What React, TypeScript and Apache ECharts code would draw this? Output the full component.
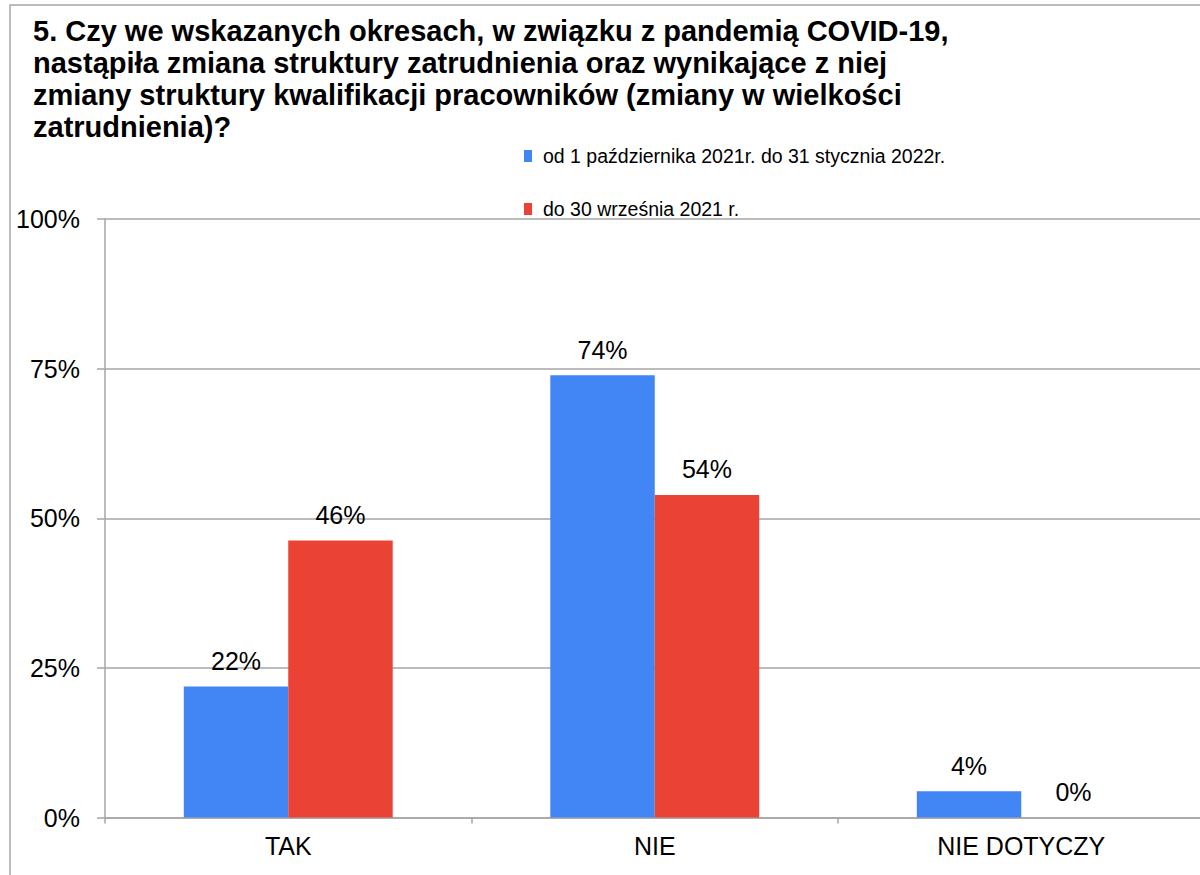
import React, { useEffect, useRef } from "react";
import * as echarts from "echarts";

const categories = ["TAK", "NIE", "NIE DOTYCZY"];
const seriesNames = [
  "od 1 października 2021r. do 31 stycznia 2022r.",
  "do 30 września 2021 r.",
];
const periodNew = [21.9, 73.9, 4.4];
const periodOld = [46.3, 53.9, 0];
const yTicks = [0, 25, 50, 75, 100];
const titleText =
  "5. Czy we wskazanych okresach, w związku z pandemią COVID-19,\nnastąpiła zmiana struktury zatrudnienia oraz wynikające z niej\nzmiany struktury kwalifikacji pracowników (zmiany w wielkości\nzatrudnienia)?";

const FONT = "'Liberation Sans', Arial, sans-serif";
const GRAY = "#a6a6a6";

export default function App() {
  const ref = useRef<HTMLDivElement>(null);
  useEffect(() => {
    if (!ref.current) return;
    const chart = echarts.init(ref.current, null, { renderer: "svg" });
    const label = {
      show: true,
      position: "top" as const,
      distance: 13,
      fontSize: 25,
      color: "#000",
      fontFamily: FONT,
      formatter: (p: any) => Math.round(p.value) + "%",
    };
    chart.setOption({
      animation: false,
      backgroundColor: "#fff",
      textStyle: { fontFamily: FONT },
      title: {
        text: titleText,
        left: 33,
        top: 15,
        padding: 0,
        textStyle: {
          fontSize: 29,
          fontWeight: "bold",
          color: "#000",
          lineHeight: 32,
          fontFamily: FONT,
        },
      },
      legend: {
        orient: "vertical",
        left: 524,
        top: 144,
        padding: 0,
        itemWidth: 8,
        itemHeight: 12,
        itemGap: 29,
        icon: "rect",
        data: seriesNames,
        textStyle: {
          fontSize: 19.5,
          lineHeight: 24,
          color: "#000",
          fontFamily: FONT,
          padding: [0, 0, 0, 6],
        },
      },
      graphic: [
        {
          type: "rect",
          shape: { x: 10, y: 5, width: 1400, height: 1000 },
          style: { fill: "none", stroke: GRAY, lineWidth: 1.5 },
          silent: true,
          z: 100,
        },
      ],
      grid: {
        left: 105,
        top: 219,
        width: 1099.5,
        height: 598.5,
        containLabel: false,
      },
      xAxis: {
        type: "category",
        data: categories,
        axisLine: { lineStyle: { color: GRAY, width: 1.5 } },
        axisTick: { show: true, length: 6, lineStyle: { color: GRAY, width: 1.5 } },
        axisLabel: { fontSize: 25, color: "#000", margin: 16, fontFamily: FONT },
      },
      yAxis: {
        type: "value",
        min: yTicks[0],
        max: yTicks[yTicks.length - 1],
        interval: 25,
        axisLine: { show: true, lineStyle: { color: GRAY, width: 1.5 } },
        axisTick: { show: true, length: 8, lineStyle: { color: GRAY, width: 1.5 } },
        splitLine: { show: true, lineStyle: { color: GRAY, width: 1.5 } },
        axisLabel: {
          fontSize: 25,
          color: "#000",
          margin: 25,
          fontFamily: FONT,
          formatter: "{value}%",
        },
      },
      series: [
        {
          name: seriesNames[0],
          type: "bar",
          data: periodNew,
          itemStyle: { color: "#4285f4" },
          barGap: "0%",
          barCategoryGap: "43%",
          label,
        },
        {
          name: seriesNames[1],
          type: "bar",
          data: periodOld,
          itemStyle: { color: "#ea4335" },
          barGap: "0%",
          barCategoryGap: "43%",
          label,
        },
      ],
    });
    return () => chart.dispose();
  }, []);
  return (
    <div
      style={{
        position: "fixed",
        left: 0,
        top: 0,
        width: 1200,
        height: 875,
        overflow: "hidden",
        background: "#fff",
      }}
    >
      <div ref={ref} style={{ width: 1220, height: 890 }} />
    </div>
  );
}
